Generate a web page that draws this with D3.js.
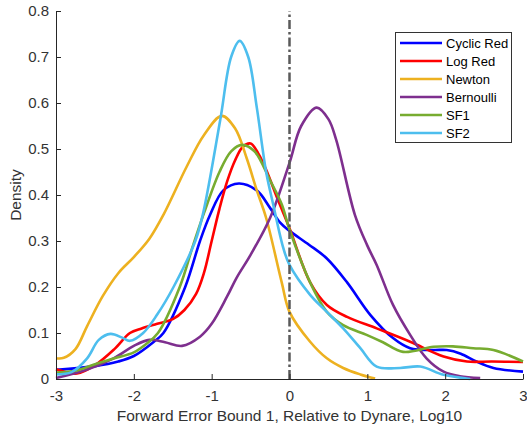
<!DOCTYPE html>
<html>
<head>
<meta charset="utf-8">
<script src="https://cdn.jsdelivr.net/npm/d3@7"></script>
<style>
  body { margin: 0; background: #fff; }
  svg { font-family: "Liberation Sans", Arial, sans-serif; }
</style>
</head>
<body>
<svg id="chart"></svg>
<script>
// density curves
var cyclicRedX = [-3, -2.5, -2.2, -2, -1.75, -1.62, -1.34, -1.15, -1.02, -0.85, -0.65, -0.42, -0.25, -0.12, 0, 0.25, 0.48, 0.74, 1.04, 1.33, 1.55, 1.85, 2.02, 2.2, 2.4, 2.62, 3];
var cyclicRedY = [0.02, 0.028, 0.038, 0.05, 0.08, 0.1, 0.2, 0.3, 0.357, 0.41, 0.425, 0.41, 0.372, 0.34, 0.322, 0.292, 0.262, 0.21, 0.139, 0.089, 0.067, 0.063, 0.063, 0.055, 0.038, 0.024, 0.016];

var logRedX = [-3, -2.73, -2.5, -2.25, -2.05, -1.9, -1.7, -1.5, -1.35, -1.2, -1.1, -1.0, -0.9, -0.8, -0.7, -0.6, -0.5, -0.4, -0.3, -0.15, 0, 0.265, 0.48, 0.74, 1.12, 1.55, 1.98, 2.28, 2.6, 3];
var logRedY = [0.021, 0.012, 0.03, 0.065, 0.1, 0.11, 0.12, 0.13, 0.15, 0.185, 0.23, 0.3, 0.37, 0.43, 0.475, 0.505, 0.512, 0.49, 0.455, 0.39, 0.328, 0.21, 0.161, 0.135, 0.11, 0.081, 0.049, 0.038, 0.038, 0.037];

var newtonX = [-3, -2.9, -2.75, -2.6, -2.4, -2.2, -2, -1.8, -1.62, -1.32, -1.1, -0.87, -0.7, -0.55, -0.42, -0.3, -0.1, 0, 0.265, 0.48, 0.69, 0.91, 1.1];
var newtonY = [0.045, 0.046, 0.065, 0.115, 0.18, 0.23, 0.265, 0.305, 0.357, 0.462, 0.53, 0.572, 0.545, 0.48, 0.41, 0.35, 0.21, 0.146, 0.081, 0.045, 0.024, 0.01, 0.001];

var bernoulliX = [-3, -2.61, -2.26, -2, -1.8, -1.6, -1.38, -1.15, -1, -0.8, -0.68, -0.5, -0.25, 0, 0.15, 0.35, 0.5, 0.6, 0.84, 1.0, 1.12, 1.33, 1.55, 1.76, 1.98, 2.19, 2.45];
var bernoulliY = [0.002, 0.02, 0.045, 0.072, 0.085, 0.08, 0.072, 0.092, 0.12, 0.18, 0.22, 0.27, 0.35, 0.47, 0.55, 0.59, 0.565, 0.52, 0.357, 0.29, 0.248, 0.161, 0.096, 0.045, 0.016, 0.006, 0.002];

var sf1X = [-3, -2.75, -2.5, -2.25, -2, -1.85, -1.69, -1.41, -1.24, -1.1, -0.9, -0.75, -0.61, -0.45, -0.25, -0.1, 0, 0.265, 0.48, 0.69, 0.99, 1.2, 1.46, 1.85, 2.1, 2.36, 2.62, 3];
var sf1Y = [0.014, 0.018, 0.032, 0.045, 0.058, 0.075, 0.1, 0.2, 0.29, 0.36, 0.45, 0.495, 0.509, 0.495, 0.432, 0.38, 0.325, 0.21, 0.146, 0.117, 0.096, 0.08, 0.059, 0.07, 0.071, 0.067, 0.063, 0.038];

var sf2X = [-3, -2.8, -2.6, -2.45, -2.3, -2.15, -2.05, -1.88, -1.7, -1.49, -1.21, -1.11, -0.89, -0.75, -0.64, -0.53, -0.42, -0.3, -0.21, -0.08, 0, 0.265, 0.48, 0.69, 0.91, 1.12, 1.42, 1.68, 1.98, 2.32];
var sf2Y = [0.01, 0.015, 0.045, 0.085, 0.098, 0.09, 0.083, 0.1, 0.14, 0.2, 0.3, 0.36, 0.563, 0.7, 0.735, 0.7, 0.59, 0.45, 0.38, 0.285, 0.248, 0.183, 0.146, 0.11, 0.067, 0.027, 0.024, 0.027, 0.009, 0.0];

var seriesNames = ["Cyclic Red", "Log Red", "Newton", "Bernoulli", "SF1", "SF2"];
var seriesColors = ["#0000ff", "#ff0000", "#edb120", "#7e2f8e", "#77ac30", "#4dbeee"];
var xTicks = [-3, -2, -1, 0, 1, 2, 3];
var yTicks = [0, 0.1, 0.2, 0.3, 0.4, 0.5, 0.6, 0.7, 0.8];

var allX = [cyclicRedX, logRedX, newtonX, bernoulliX, sf1X, sf2X];
var allY = [cyclicRedY, logRedY, newtonY, bernoulliY, sf1Y, sf2Y];

var width = 527, height = 430;
var svg = d3.select("#chart").attr("width", width).attr("height", height);

var x = d3.scaleLinear().domain([-3, 3]).range([56, 523]);
var y = d3.scaleLinear().domain([0, 0.8]).range([379, 11]);

var line = d3.line()
    .x(function (d) { return x(d[0]); })
    .y(function (d) { return y(d[1]); })
    .curve(d3.curveCatmullRom.alpha(0.5));

// curves
for (var i = 0; i < seriesNames.length; i++) {
    var pts = allX[i].map(function (v, j) { return [v, allY[i][j]]; });
    svg.append("path")
        .datum(pts)
        .attr("d", line)
        .attr("fill", "none")
        .attr("stroke", seriesColors[i])
        .attr("stroke-width", 2.6)
        .attr("stroke-linejoin", "round");
}

// zero reference line
svg.append("line")
    .attr("x1", x(0)).attr("x2", x(0))
    .attr("y1", y(0)).attr("y2", y(0.8))
    .attr("stroke", "#5a5a5a")
    .attr("stroke-width", 2.5)
    .attr("stroke-dasharray", "9,3,2.5,3");

// axes (matlab style, ticks inside)
var xAxis = svg.append("g").attr("transform", "translate(0," + y(0) + ")")
    .call(d3.axisBottom(x).tickValues(xTicks).tickFormat(function (d) { return String(d); })
        .tickSizeInner(-5).tickSizeOuter(0).tickPadding(11));
var yAxis = svg.append("g").attr("transform", "translate(" + x(-3) + ",0)")
    .call(d3.axisLeft(y).tickValues(yTicks).tickFormat(function (d) { return String(d); })
        .tickSizeInner(-5).tickSizeOuter(0).tickPadding(7));

[xAxis, yAxis].forEach(function (g) {
    g.select(".domain").attr("stroke", "#262626").attr("stroke-width", 1);
    g.selectAll(".tick line").attr("stroke", "#262626");
    g.selectAll(".tick text").attr("fill", "#333").style("font-size", "15px").style("font-family", "Liberation Sans, Arial, sans-serif");
});

svg.append("text")
    .attr("x", (x(-3) + x(3)) / 2).attr("y", 421)
    .attr("text-anchor", "middle")
    .style("font-size", "15.5px").attr("fill", "#333")
    .text("Forward Error Bound 1, Relative to Dynare, Log10");

svg.append("text")
    .attr("transform", "translate(20.5," + (y(0) + y(0.8)) / 2 + ") rotate(-90)")
    .attr("text-anchor", "middle")
    .style("font-size", "15.5px").attr("fill", "#333")
    .text("Density");

// legend
var lg = svg.append("g");
lg.append("rect")
    .attr("x", 395.5).attr("y", 32.5).attr("width", 116).attr("height", 110)
    .attr("fill", "#fff").attr("stroke", "#333").attr("stroke-width", 1);
seriesNames.forEach(function (name, i) {
    var ly = 43 + i * 18;
    lg.append("line")
        .attr("x1", 400).attr("x2", 442).attr("y1", ly).attr("y2", ly)
        .attr("stroke", seriesColors[i]).attr("stroke-width", 2.6);
    lg.append("text")
        .attr("x", 446).attr("y", ly).attr("dy", "0.35em")
        .style("font-size", "13px").attr("fill", "#000")
        .text(name);
});
</script>
</body>
</html>
